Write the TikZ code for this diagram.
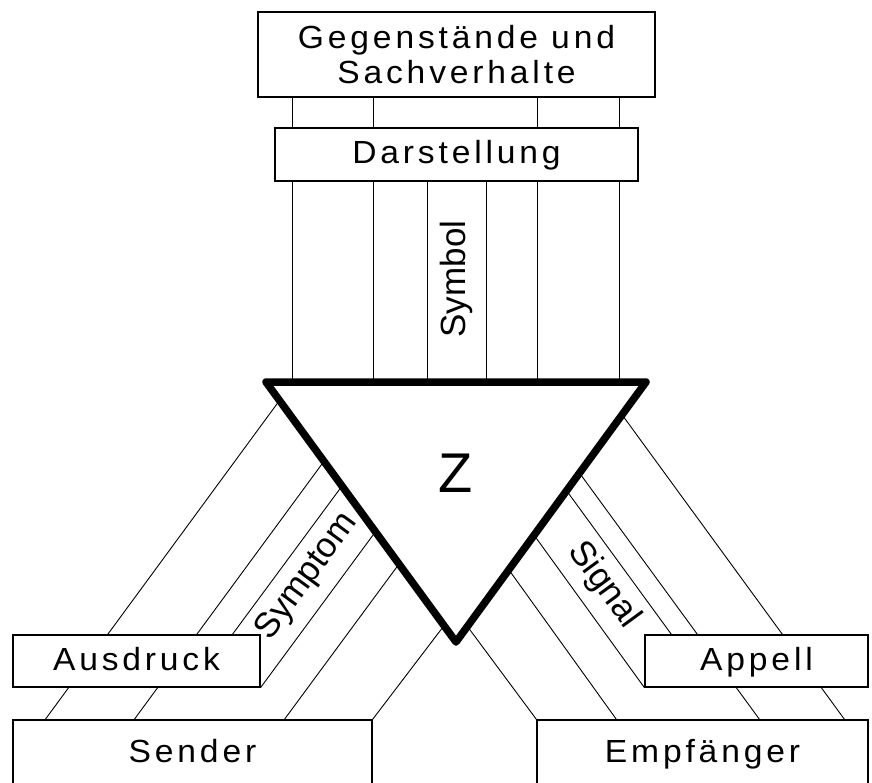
\documentclass[tikz,border=0pt]{standalone}
\usepackage{fontspec}
\setmainfont{Liberation Sans}
\newfontfamily\feldfont[LetterSpace=12,FakeStretch=1.05]{Liberation Sans}
\usetikzlibrary{calc,backgrounds}

\tikzset{
  feld/.style={draw,line width=1.2pt,fill=white,inner sep=0pt,
    font=\feldfont\fontsize{32}{35}\selectfont},
  zeile/.style={text height=24pt,text depth=6pt},
  strahl/.style={line width=0.9pt},
  aspekt/.style={inner sep=0pt,font=\fontsize{35}{40}\selectfont},
}

\begin{document}
\begin{tikzpicture}[x=1pt,y=-1pt]
\useasboundingbox (0,0) rectangle (872,782);
% boxes
\node[feld,align=center,minimum width=397,minimum height=85] (obj) at (456.5,54.5) {Gegenstände und\\Sachverhalte};
\node[feld,zeile,minimum width=363,minimum height=53] (dar) at (456.5,154.5) {Darstellung};
\node[feld,zeile,minimum width=247,minimum height=52] (ausdruck) at (136.5,661) {Ausdruck};
\node[feld,zeile,minimum width=223,minimum height=52] (appell) at (756.5,661) {Appell};
\node[feld,zeile,minimum width=359,minimum height=66] (sender) at (192.5,753) {Sender};
\node[feld,zeile,minimum width=331,minimum height=66] (empf) at (702.5,753) {Empfänger};
% sign
\coordinate (A) at (266,382);
\coordinate (B) at (646,382);
\coordinate (C) at (456,642);
\begin{scope}[on background layer]
  % Darstellung
  \foreach \x in {292,373,537,619}
    \draw[strahl] (\x,0 |- obj.south) -- (\x,0 |- dar.north);
  \foreach \x in {292,373,427,486,537,619}
    \draw[strahl] (\x,0 |- dar.south) -- (\x,0 |- A);
  % Ausdruck
  \draw[strahl] ($(A)!0.071!(C)$) -- ($(sender.north west)+(32.9,0)$);
  \draw[strahl] ($(A)!0.305!(C)$) -- ($(sender.north west)+(121.9,0)$);
  \draw[strahl] ($(A)!0.400!(C)$) -- ($(ausdruck.north west)+(220,0)$);
  \draw[strahl] ($(A)!0.576!(C)$) -- (ausdruck.south east);
  \draw[strahl] ($(A)!0.700!(C)$) -- ($(sender.north west)+(272,0)$);
  \draw[strahl] ($(A)!0.937!(C)$) -- (sender.north east);
  % Appell
  \draw[strahl] ($(B)!0.126!(C)$) -- ($(empf.north west)+(308.1,0)$);
  \draw[strahl] ($(B)!0.350!(C)$) -- ($(empf.north west)+(223.1,0)$);
  \draw[strahl] ($(B)!0.418!(C)$) -- ($(appell.north west)+(27,0)$);
  \draw[strahl] ($(B)!0.589!(C)$) -- (appell.south west);
  \draw[strahl] ($(B)!0.722!(C)$) -- ($(empf.north west)+(80,0)$);
  \draw[strahl] ($(B)!0.940!(C)$) -- (empf.north west);
\end{scope}
\draw[line width=7.5pt,line join=round] (A) -- (B) -- (C) -- cycle;
\node[font=\fontsize{56}{60}\selectfont] (z) at (456,473) {Z};
% labels
\node[aspekt,rotate=90] (symbol) at (456.5,279) {Symbol};
\node[aspekt,rotate=53.8] (symptom) at (307,577) {Symptom};
\node[aspekt,rotate=-53.8] (signal) at (604,585) {Signal};
\end{tikzpicture}
\end{document}
